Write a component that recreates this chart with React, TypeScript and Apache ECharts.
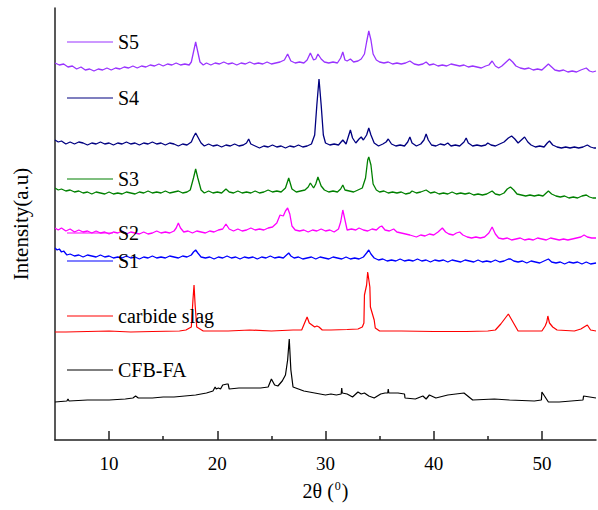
import React, { useEffect, useRef } from "react";
import * as echarts from "echarts";

// 2θ (degrees) vs stacked intensity (a.u.)
const S5: [number, number][] = [[5,377],[5.4,375],[5.8,376],[6.2,373],[6.6,374],[7,371],[7.4,373],[7.8,370],[8.2,371],[8.6,369],[9,371],[9.4,370],[9.8,372],[10.2,370],[10.6,372],[11,371],[11.4,373],[11.8,372],[12.2,374],[12.6,372],[13,374],[13.4,373],[13.8,375],[14.2,374],[14.6,376],[15,374],[15.4,376],[15.8,375],[16.2,377],[16.6,375],[17,376],[17.4,375],[17.6,378],[17.8,388],[18,398],[18.2,388],[18.4,378],[18.7,375],[19,377],[19.4,375],[19.8,377],[20.2,376],[20.6,378],[21,376],[21.4,377],[21.8,375],[22.2,377],[22.6,376],[23,378],[23.4,376],[23.8,377],[24.2,376],[24.6,378],[25,376],[25.4,377],[25.8,378],[26.2,380],[26.5,386],[26.8,379],[27.2,377],[27.6,378],[28,377],[28.3,380],[28.6,387],[28.9,380],[29.1,381],[29.3,386],[29.6,381],[29.9,378],[30.3,377],[30.7,378],[31.1,377],[31.4,382],[31.6,388],[31.8,380],[32,379],[32.3,381],[32.6,378],[33,379],[33.3,381],[33.6,386],[33.8,398],[34,409],[34.2,400],[34.4,386],[34.7,380],[35,378],[35.4,377],[35.8,378],[36.2,376],[36.6,377],[37,376],[37.4,377],[37.8,379],[38.2,376],[38.6,375],[39,376],[39.3,378],[39.6,375],[40,376],[40.4,374],[40.8,375],[41.2,374],[41.6,376],[42,375],[42.4,374],[42.8,375],[43.2,373],[43.6,374],[44,373],[44.4,372],[44.8,374],[45.1,375],[45.4,379],[45.7,374],[46,372],[46.3,374],[46.6,377],[47,381],[47.3,378],[47.6,374],[48,372],[48.4,371],[48.8,372],[49.2,370],[49.6,371],[50,370],[50.3,373],[50.6,376],[50.9,373],[51.2,370],[51.6,369],[52,370],[52.4,368],[52.8,369],[53.2,368],[53.6,370],[54.1,372],[54.4,369],[54.7,368],[55,369]];

const S4: [number, number][] = [[5,300],[5.3,298],[5.6,299],[6,296],[6.4,298],[6.8,296],[7.2,298],[7.6,297],[8,295],[8.4,297],[8.8,296],[9.2,298],[9.6,296],[10,297],[10.4,295],[10.8,297],[11.2,296],[11.6,298],[12,296],[12.4,297],[12.8,295],[13.2,297],[13.6,296],[14,298],[14.4,296],[14.8,297],[15.2,295],[15.6,297],[16,296],[16.4,294],[16.8,296],[17.2,295],[17.6,298],[17.8,303],[18,307],[18.2,303],[18.5,297],[18.8,294],[19.2,296],[19.6,294],[20,295],[20.4,293],[20.8,295],[21.2,294],[21.6,296],[22,294],[22.4,295],[22.7,297],[22.9,301],[23.1,296],[23.5,294],[23.9,292],[24.3,294],[24.7,293],[25.1,295],[25.5,293],[25.9,294],[26.3,292],[26.7,294],[27.1,293],[27.5,295],[27.9,293],[28.3,294],[28.7,296],[29,305],[29.2,335],[29.4,361],[29.6,335],[29.8,305],[30,297],[30.4,295],[30.8,296],[31.2,295],[31.6,300],[31.9,296],[32.1,303],[32.3,310],[32.5,302],[32.8,297],[33.1,301],[33.3,303],[33.5,300],[33.8,305],[34,312],[34.2,305],[34.5,297],[34.9,294],[35.3,296],[35.6,298],[35.8,301],[36.1,296],[36.5,294],[36.9,295],[37.3,294],[37.6,298],[37.8,303],[38,297],[38.4,294],[38.8,296],[39.1,300],[39.3,306],[39.5,300],[39.8,295],[40.2,294],[40.6,296],[41,295],[41.3,297],[41.6,294],[42,295],[42.4,294],[42.8,298],[43,302],[43.2,297],[43.6,294],[44,295],[44.4,294],[44.8,295],[45,297],[45.3,295],[45.7,294],[46.1,296],[46.5,298],[46.9,302],[47.2,304],[47.5,301],[47.8,297],[48.1,300],[48.4,303],[48.7,298],[49,295],[49.4,293],[49.8,294],[50.2,293],[50.5,297],[50.7,299],[51,295],[51.4,293],[51.8,292],[52.2,293],[52.6,292],[53,293],[53.4,292],[53.8,293],[54.2,295],[54.5,293],[54.8,292],[55,292]];

const S3: [number, number][] = [[5,252],[5.3,250],[5.6,251],[6,249],[6.4,250],[6.8,248],[7.2,249],[7.6,247],[8,248],[8.4,246],[8.8,248],[9.2,247],[9.6,246],[10,248],[10.4,246],[10.8,247],[11.2,246],[11.6,248],[12,247],[12.4,246],[12.8,248],[13.2,247],[13.6,249],[14,247],[14.4,248],[14.8,247],[15.2,249],[15.6,247],[16,248],[16.4,249],[16.8,247],[17.2,248],[17.5,250],[17.8,262],[18,271],[18.2,262],[18.5,250],[18.8,247],[19.2,249],[19.6,247],[20,248],[20.4,247],[20.8,251],[21.1,248],[21.5,247],[21.9,249],[22.3,247],[22.7,248],[23.1,247],[23.5,249],[23.9,247],[24.3,248],[24.7,250],[25.1,248],[25.5,249],[25.9,248],[26.3,252],[26.6,262],[26.9,251],[27.3,248],[27.7,249],[28.1,250],[28.4,253],[28.6,257],[28.9,252],[29.1,256],[29.3,263],[29.6,254],[29.9,250],[30.3,248],[30.7,249],[31.1,248],[31.4,251],[31.6,255],[31.8,250],[32.2,249],[32.6,248],[33,250],[33.4,252],[33.7,262],[33.9,280],[34,283],[34.2,275],[34.4,256],[34.7,250],[35,248],[35.4,249],[35.8,247],[36.2,248],[36.6,247],[37,248],[37.4,246],[37.8,247],[38,249],[38.4,247],[38.8,248],[39.3,250],[39.7,247],[40.1,248],[40.5,246],[40.9,247],[41.3,246],[41.7,248],[42.1,246],[42.5,247],[42.9,246],[43.3,247],[43.7,245],[44.1,246],[44.5,245],[44.9,246],[45.4,249],[45.7,246],[46.1,245],[46.5,247],[46.8,251],[47.1,253],[47.4,250],[47.7,246],[48.1,245],[48.5,244],[48.9,245],[49.3,244],[49.7,245],[50.1,244],[50.4,247],[50.6,249],[50.9,246],[51.3,244],[51.7,243],[52.1,244],[52.5,242],[52.9,243],[53.3,242],[53.7,244],[54.1,245],[54.4,243],[54.7,242],[55,242]];

const S2: [number, number][] = [[5,212],[5.3,210],[5.6,212],[6,209],[6.4,211],[6.8,208],[7.2,210],[7.6,208],[8,209],[8.4,207],[8.8,209],[9.2,207],[9.6,208],[10,206],[10.4,208],[10.8,207],[11.2,209],[11.6,206],[12,208],[12.4,207],[12.8,206],[13.2,208],[13.6,206],[14,207],[14.4,209],[14.8,207],[15.2,208],[15.6,207],[16,209],[16.2,212],[16.4,217],[16.6,212],[16.9,208],[17.3,209],[17.7,207],[18.1,209],[18.5,208],[18.9,207],[19.3,209],[19.7,208],[20.1,210],[20.5,211],[20.8,216],[21.1,211],[21.5,209],[21.9,211],[22.3,209],[22.7,210],[23.1,212],[23.5,210],[23.9,211],[24.3,210],[24.7,212],[25.1,213],[25.5,217],[25.8,225],[26.1,224],[26.3,229],[26.5,232],[26.7,226],[26.9,214],[27.2,210],[27.6,209],[28,210],[28.4,208],[28.8,210],[29.2,209],[29.6,211],[30,209],[30.4,210],[30.8,208],[31.2,211],[31.4,218],[31.6,230],[31.8,220],[32,210],[32.4,211],[32.8,210],[33.1,212],[33.5,210],[33.9,209],[34.3,211],[34.7,210],[35,213],[35.2,214],[35.5,210],[35.9,209],[36.3,211],[36.6,208],[37,207],[37.4,206],[37.8,205],[38.1,204],[38.4,203],[38.8,205],[39.2,204],[39.6,206],[40,205],[40.4,208],[40.8,212],[41.1,208],[41.4,206],[41.8,205],[42.1,207],[42.4,208],[42.7,205],[43.1,203],[43.5,202],[43.9,203],[44.3,202],[44.7,203],[45.1,207],[45.4,213],[45.7,206],[46,202],[46.4,201],[46.8,202],[47.2,200],[47.6,201],[48,202],[48.4,200],[48.8,201],[49.2,200],[49.6,202],[50,201],[50.4,200],[50.8,202],[51.2,201],[51.6,200],[52,201],[52.4,200],[52.8,201],[53.2,202],[53.6,203],[53.9,205],[54.2,203],[54.6,202],[55,202]];

const S1: [number, number][] = [[5,192],[5.2,190],[5.4,191],[5.6,188],[5.8,189],[6.1,185],[6.4,186],[6.8,184],[7.2,185],[7.6,183],[8,185],[8.4,184],[8.8,183],[9.2,185],[9.6,183],[10,184],[10.4,182],[10.8,183],[11.2,182],[11.6,184],[12,182],[12.4,183],[12.8,181],[13.2,183],[13.6,182],[14,184],[14.4,182],[14.8,183],[15.2,182],[15.6,184],[16,183],[16.4,182],[16.8,184],[17.2,183],[17.6,185],[17.8,188],[18,190],[18.2,187],[18.5,183],[18.9,182],[19.3,183],[19.7,181],[20.1,183],[20.5,182],[20.9,184],[21.3,182],[21.7,183],[22.1,181],[22.5,183],[22.9,182],[23.3,183],[23.7,181],[24.1,183],[24.5,182],[24.9,184],[25.3,182],[25.7,183],[26.1,182],[26.4,185],[26.6,187],[26.8,184],[27.1,182],[27.5,183],[27.9,181],[28.3,182],[28.7,183],[29.1,181],[29.5,183],[29.9,182],[30.3,181],[30.7,183],[31.1,182],[31.5,181],[31.9,183],[32.3,181],[32.7,182],[33.1,181],[33.5,183],[33.8,187],[34,190],[34.2,186],[34.5,182],[34.9,180],[35.3,181],[35.7,179],[36.1,180],[36.5,179],[36.9,181],[37.3,179],[37.7,180],[38.1,179],[38.5,181],[38.9,179],[39.3,180],[39.7,178],[40.1,180],[40.5,179],[40.9,180],[41.3,178],[41.7,180],[42.1,179],[42.5,178],[42.9,180],[43.3,179],[43.7,178],[44.1,180],[44.5,178],[44.9,179],[45.3,178],[45.7,180],[46.1,178],[46.5,179],[46.9,181],[47.1,181],[47.4,179],[47.8,178],[48.2,179],[48.6,177],[49,179],[49.4,178],[49.8,177],[50.2,179],[50.6,181],[50.9,178],[51.3,177],[51.7,178],[52.1,176],[52.5,178],[52.9,177],[53.3,178],[53.7,176],[54.1,178],[54.5,176],[55,177]];

const CARBIDE: [number, number][] = [[5,108],[6,108],[8,108.5],[10,109],[12,108],[14,108.5],[16.5,109],[17.1,110],[17.6,113],[17.75,140],[17.85,155],[17.95,135],[18.1,113],[18.7,109],[21,109],[23,110],[25,109],[27,110],[27.8,110],[28.3,123],[28.5,117],[29.0,113],[29.2,114],[29.4,113],[29.7,110],[30.5,110],[32,110.5],[33,111],[33.4,113],[33.55,117],[33.6,145],[33.8,155],[33.9,168],[34.1,153],[34.15,133],[34.5,120],[34.6,112],[35,109],[37,109],[40,108.5],[43,108.5],[45,109],[45.7,110],[46.2,116],[46.9,126],[47.8,109],[49,109],[50,109],[50.3,114],[50.45,118],[50.55,124],[50.7,117],[51,113],[51.4,110],[53,109],[53.6,111],[54.2,115],[54.5,110],[55,109]];

const CFBFA: [number, number][] = [[5,38],[6.1,39],[6.2,41],[6.3,39],[8,40],[10,40],[11.5,41],[12.2,42],[12.45,44],[12.7,42],[14,42],[15,43],[16,43],[17,44],[18,45],[19,47],[19.6,49],[19.8,53],[19.9,51],[20.1,52],[20.3,51],[20.5,55],[20.9,56],[21.0,56],[21.1,51],[22,52],[23,52],[24,52],[24.7,53],[25.0,61],[25.3,55],[25.6,54],[26.0,59],[26.3,65],[26.5,80],[26.65,101],[26.8,70],[27.0,53],[27.5,51],[28,49],[28.5,48],[29,47],[29.5,46],[30,45],[30.5,46],[31,45],[31.45,46],[31.5,52],[31.55,47],[32,46],[32.5,43],[33.0,48],[33.3,46],[33.6,47],[34.0,44],[34.5,42],[35.1,46],[35.5,47],[35.75,47],[35.8,51],[35.85,47],[36.2,47],[36.7,47],[37.3,46],[37.35,42],[38.3,41],[39,44],[39.3,41],[39.6,45],[40.2,42],[41.3,45],[42.8,47],[43.6,40],[45.6,41],[47,40],[49.3,39],[49.95,40],[50.0,48],[50.6,38],[51.6,38],[53.8,40],[53.85,44],[55,42]];

const NAMES = ["S5", "S4", "S3", "S2", "S1", "carbide slag", "CFB-FA"];
const DATA = [S5, S4, S3, S2, S1, CARBIDE, CFBFA];
const COLORS = ["#9933FF", "#000080", "#008000", "#FF00FF", "#0000FF", "#FF0000", "#000000"];
const MAJOR_TICKS = [10, 20, 30, 40, 50];
const MINOR_TICKS = [15, 25, 35, 45];

// layout (pixels)
const LEGEND_TOPS = [32, 88, 169, 223, 251, 306, 360];
const FONT = '"Liberation Serif", "Times New Roman", serif';

export default function App() {
  const ref = useRef<HTMLDivElement>(null);
  useEffect(() => {
    if (!ref.current) return;
    const chart = echarts.init(ref.current, undefined, { renderer: "svg" });
    chart.setOption({
      animation: false,
      backgroundColor: "#ffffff",
      grid: { left: 55, right: 2, top: 8, bottom: 70 },
      legend: NAMES.map((n, i) => ({
        data: [n],
        left: 67,
        top: LEGEND_TOPS[i],
        padding: 0,
        icon: "rect",
        itemWidth: 46,
        itemHeight: 1.2,
        selectedMode: false,
        textStyle: { fontFamily: FONT, fontSize: 20, color: "#000", lineHeight: 20 },
      })),
      xAxis: [
        {
          type: "value",
          min: 5,
          max: 55,
          name: "2θ ({s|0})",
          nameLocation: "middle",
          nameGap: 40,
          nameTextStyle: {
            fontFamily: FONT,
            fontSize: 20,
            color: "#000",
            rich: { s: { fontFamily: FONT, fontSize: 12, color: "#000", verticalAlign: "top", padding: [0, 1, 9, 1] } },
          },
          axisLine: { show: true, lineStyle: { color: "#222", width: 1.5 } },
          axisTick: { show: true, inside: true, length: 9, customValues: MAJOR_TICKS, lineStyle: { color: "#222", width: 1.5 } },
          axisLabel: { customValues: MAJOR_TICKS, fontFamily: FONT, fontSize: 19, color: "#000", margin: 14 },
          splitLine: { show: false },
        },
        {
          type: "value",
          min: 5,
          max: 55,
          position: "bottom",
          axisLine: { show: false },
          axisTick: { show: true, inside: true, length: 4, customValues: MINOR_TICKS, lineStyle: { color: "#222", width: 1.5 } },
          axisLabel: { show: false },
          splitLine: { show: false },
        },
      ],
      yAxis: {
        type: "value",
        min: 0,
        max: 432,
        name: "Intensity(a.u)",
        nameLocation: "middle",
        nameGap: 24,
        nameTextStyle: { fontFamily: FONT, fontSize: 21, color: "#000" },
        axisLine: { show: true, lineStyle: { color: "#222", width: 1.5 } },
        axisTick: { show: false },
        axisLabel: { show: false },
        splitLine: { show: false },
      },
      series: NAMES.map((n, i) => ({
        type: "line",
        name: n,
        data: DATA[i],
        xAxisIndex: 0,
        symbol: "none",
        showSymbol: false,
        color: COLORS[i],
        lineStyle: { color: COLORS[i], width: i >= 5 ? 1.2 : 1.3 },
      })),
    });
    return () => chart.dispose();
  }, []);
  return (
    <div
      ref={ref}
      style={{ position: "fixed", left: 0, top: 0, width: 598, height: 510 }}
    />
  );
}
